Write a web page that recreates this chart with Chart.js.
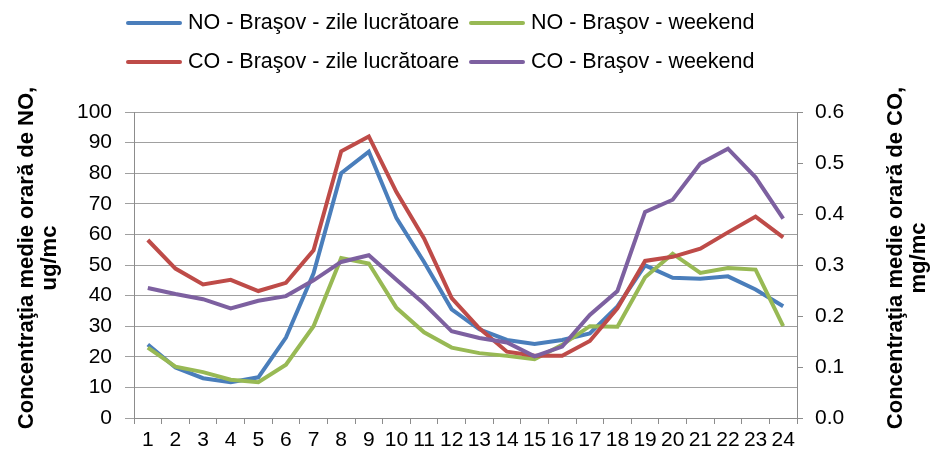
<!DOCTYPE html>
<html>
<head>
<meta charset="utf-8">
<script src="https://cdn.jsdelivr.net/npm/chart.js@4.4.0/dist/chart.umd.min.js"></script>
<style>
  html, body { margin: 0; padding: 0; background: #fff; }
  #wrap { width: 933px; height: 454px; }
</style>
</head>
<body>
<div id="wrap"><canvas id="noCoChart" width="933" height="454"></canvas></div>
<script>
// hours of the day
const hours = ['1', '2', '3', '4', '5', '6', '7', '8', '9', '10', '11', '12',
  '13', '14', '15', '16', '17', '18', '19', '20', '21', '22', '23', '24'];

// NO, ug/mc (left axis)
const noWeekday = [24, 16.5, 13, 11.7, 13.3, 26.3, 47.3, 80, 87, 65.3, 51, 35.5,
  29, 25.5, 24.2, 25.5, 27.6, 36.5, 49.9, 45.8, 45.5, 46.3, 42, 36.5];
const noWeekend = [23, 16.8, 15, 12.5, 11.7, 17.4, 30, 52.3, 50.5, 36, 28, 23,
  21.2, 20.3, 19.2, 23.9, 30, 29.8, 46, 53.7, 47.4, 49, 48.5, 30];

// CO, mg/mc (right axis)
const coWeekday = [0.349, 0.293, 0.262, 0.271, 0.249, 0.265, 0.329, 0.523, 0.552, 0.443, 0.352, 0.235,
  0.176, 0.130, 0.122, 0.122, 0.151, 0.215, 0.308, 0.316, 0.332, 0.364, 0.395, 0.354];
const coWeekend = [0.255, 0.243, 0.233, 0.215, 0.230, 0.239, 0.270, 0.306, 0.319, 0.271, 0.224, 0.170,
  0.157, 0.148, 0.121, 0.140, 0.202, 0.249, 0.404, 0.428, 0.499, 0.528, 0.472, 0.391];

const seriesNames = [
  'NO - Braşov - zile lucrătoare',
  'NO - Braşov - weekend',
  'CO - Braşov - zile lucrătoare',
  'CO - Braşov - weekend'
];
const leftTitle = ['Concentraţia medie orară de NO,', 'ug/mc'];
const rightTitle = ['Concentraţia medie orară de CO,', 'mg/mc'];

const FONT = '"Liberation Sans", Arial, sans-serif';

// legend in two rows, two columns (like the Excel original)
const twoRowLegend = {
  id: 'twoRowLegend',
  afterDraw(chart) {
    const c = chart.ctx;
    const cols = [128, 471];
    const rows = [23, 62];
    c.save();
    c.font = '21.5px ' + FONT;
    c.textBaseline = 'middle';
    c.textAlign = 'left';
    chart.data.datasets.forEach((ds, i) => {
      const x = cols[i % 2];
      const y = rows[Math.floor(i / 2)];
      c.strokeStyle = ds.borderColor;
      c.lineWidth = 4;
      c.lineCap = 'round';
      c.beginPath();
      c.moveTo(x, y);
      c.lineTo(x + 52, y);
      c.stroke();
      c.fillStyle = '#000';
      c.fillText(ds.label, x + 60, y);
    });
    c.restore();
  }
};

// both axis titles read bottom-to-top
const axisTitles = {
  id: 'axisTitles',
  afterDraw(chart) {
    const c = chart.ctx;
    const midY = (chart.chartArea.top + chart.chartArea.bottom) / 2 - 7;
    c.save();
    c.font = 'bold 22px ' + FONT;
    c.fillStyle = '#000';
    c.textAlign = 'center';
    c.textBaseline = 'middle';
    [[27, leftTitle], [896, rightTitle]].forEach(([x, lines]) => {
      lines.forEach((t, i) => {
        c.save();
        c.translate(x + i * 23, midY);
        c.rotate(-Math.PI / 2);
        c.fillText(t, 0, 0);
        c.restore();
      });
    });
    c.restore();
  }
};

const tickFont = { family: FONT, size: 21 };

new Chart(document.getElementById('noCoChart'), {
  type: 'line',
  data: {
    labels: hours,
    datasets: [
      { label: seriesNames[0], data: noWeekday, borderColor: '#4A7EBB', yAxisID: 'y', order: 3 },
      { label: seriesNames[1], data: noWeekend, borderColor: '#98B954', yAxisID: 'y', order: 2 },
      { label: seriesNames[2], data: coWeekday, borderColor: '#BE4B48', yAxisID: 'y1', order: 1 },
      { label: seriesNames[3], data: coWeekend, borderColor: '#7D60A0', yAxisID: 'y1', order: 0 }
    ]
  },
  options: {
    responsive: false,
    animation: false,
    layout: { padding: { top: 112, left: 0, right: 0, bottom: 0 } },
    elements: {
      line: { borderWidth: 4, tension: 0, fill: false },
      point: { radius: 0 }
    },
    plugins: {
      legend: { display: false },
      tooltip: { enabled: false }
    },
    scales: {
      x: {
        offset: true,
        grid: { offset: true, drawOnChartArea: false, tickLength: 6, color: '#8c8c8c' },
        border: { color: '#8c8c8c' },
        ticks: { autoSkip: false, maxRotation: 0, padding: 4, font: tickFont, color: '#000' },
        afterFit: s => { s.height = 36; }
      },
      y: {
        position: 'left',
        min: 0,
        max: 100,
        ticks: { stepSize: 10, padding: 13, font: tickFont, color: '#000' },
        grid: { color: '#a0a0a0', tickLength: 9 },
        border: { color: '#8c8c8c' },
        afterFit: s => { s.width = 134; }
      },
      y1: {
        position: 'right',
        min: 0,
        max: 0.6,
        ticks: { stepSize: 0.1, padding: 12, font: tickFont, color: '#000', callback: v => v.toFixed(1) },
        grid: { drawOnChartArea: false, tickLength: 6, color: '#8c8c8c' },
        border: { color: '#8c8c8c' },
        afterFit: s => { s.width = 136; }
      }
    }
  },
  plugins: [twoRowLegend, axisTitles]
});
</script>
</body>
</html>
